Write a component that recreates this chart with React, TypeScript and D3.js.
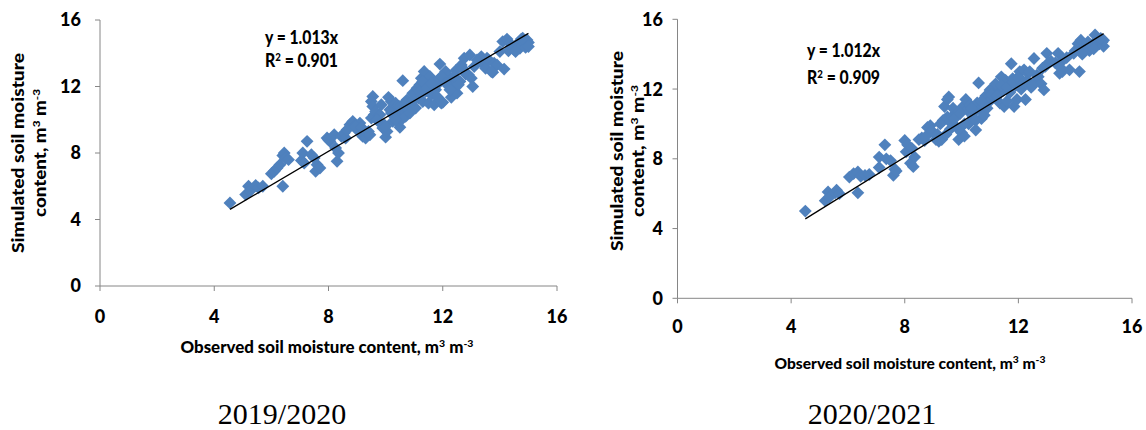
import React, { useEffect, useRef } from 'react';
import * as d3 from 'd3';

// 2019/2020 season: observed vs simulated soil moisture
const obs1920 = [
  4.55, 5.1, 5.2, 5.25, 5.45, 5.55, 5.7, 6.0, 6.1, 6.2, 6.3, 6.4, 6.45, 6.5, 6.6, 6.4,
  7.05, 7.1, 7.15, 7.25, 7.4, 7.5, 7.55, 7.6, 7.7, 7.95, 8.05, 8.0, 8.2, 8.25, 8.3, 8.35,
  8.45, 8.55, 8.6, 8.75, 8.85, 8.9, 9.0, 9.1, 9.2, 9.3, 9.35, 9.45, 9.5, 9.55, 9.5, 9.55,
  9.6, 9.65, 9.75, 9.8, 9.9, 9.95, 10.0, 10.05, 10.1, 10.15, 10.2, 10.25, 10.3, 10.35, 10.4, 10.45,
  10.5, 10.55, 10.6, 10.6, 10.65, 10.7, 10.75, 10.8, 10.85, 10.9, 10.95, 11.0, 11.05, 11.1, 11.15, 11.2,
  11.25, 11.3, 11.35, 11.4, 11.45, 11.5, 11.55, 11.6, 11.7, 11.75, 11.8, 11.85, 11.9, 11.95, 12.0, 12.05,
  12.1, 12.15, 12.2, 12.3, 12.35, 12.45, 12.5, 12.6, 12.65, 12.75, 12.8, 12.9, 12.95, 13.0, 13.05, 13.1,
  13.35, 13.45, 13.5, 13.6, 13.75, 13.8, 13.9, 14.1, 14.15, 14.25, 14.3, 14.4, 14.5, 14.6, 14.7, 14.75,
  14.85, 14.9, 15.0, 14.95,
  8.65, 8.95, 9.15, 9.4, 9.7, 9.85, 10.0, 10.2, 10.35, 10.5, 10.7, 10.85, 11.0, 11.2, 11.3, 11.45,
  11.6, 11.8, 11.95, 12.1, 12.25, 12.4, 12.55, 12.7, 13.2, 13.55, 13.7, 14.0, 14.35, 14.55, 14.8, 15.0,
];
const sim1920 = [
  5.0, 5.5, 6.0, 5.7, 6.05, 5.9, 6.0, 6.75, 6.9, 7.1, 7.3, 7.85, 8.0, 7.7, 7.6, 6.0,
  7.55, 8.0, 7.4, 8.7, 7.9, 7.7, 6.9, 7.3, 7.1, 8.9, 8.7, 8.8, 9.1, 8.3, 7.5, 8.0,
  9.0, 9.2, 8.9, 9.7, 9.9, 9.6, 9.4, 9.8, 9.0, 8.9, 9.2, 9.1, 10.1, 11.4, 11.1, 10.8,
  10.3, 10.5, 9.9, 10.3, 9.5, 9.7, 8.95, 9.3, 11.35, 10.6, 11.1, 9.9, 10.2, 11.0, 10.8, 10.5,
  9.55, 10.0, 12.35, 10.9, 10.5, 10.2, 11.2, 10.6, 10.9, 11.1, 11.6, 11.5, 10.7, 11.9, 11.3, 12.1,
  12.5, 11.1, 12.9, 11.7, 12.2, 11.0, 12.6, 11.5, 10.9, 11.8, 12.1, 12.4, 13.35, 11.0, 11.05, 12.7,
  12.9, 12.3, 12.6, 11.35, 12.0, 12.95, 11.6, 12.3, 13.3, 13.7, 12.75, 12.7, 13.9, 12.5, 12.0, 13.2,
  13.8, 13.3, 13.1, 13.6, 12.85, 13.4, 13.3, 14.7, 13.05, 14.85, 14.15, 14.4, 14.2, 14.55, 14.3, 14.85,
  14.6, 14.35, 14.65, 14.8,
  9.4, 9.6, 9.55, 9.3, 10.0, 10.9, 9.6, 10.4, 10.0, 10.8, 11.0, 10.4, 11.2, 11.7, 12.3, 11.9,
  12.2, 11.4, 12.6, 12.2, 11.8, 12.6, 12.1, 13.1, 13.6, 13.7, 12.9, 14.1, 14.6, 14.1, 14.9, 14.4,
];

// 2020/2021 season
const obs2021 = [
  4.5, 5.2, 5.3, 5.35, 5.55, 5.6, 5.7, 6.05, 6.2, 6.35, 6.45, 6.6, 6.75, 6.35,
  7.1, 7.1, 7.3, 7.35, 7.5, 7.6, 7.65, 7.7, 8.0, 8.05, 8.1, 8.2, 8.25, 8.3, 8.35,
  8.5, 8.6, 8.7, 8.8, 8.9, 9.0, 9.1, 9.2, 9.3, 9.35, 9.4, 9.45, 9.5, 9.5, 9.55,
  9.6, 9.65, 9.7, 9.8, 9.85, 9.9, 10.0, 10.05, 10.1, 10.15, 10.2, 10.25, 10.3, 10.4,
  10.45, 10.5, 10.55, 10.6, 10.65, 10.7, 10.75, 10.8, 10.85, 10.9, 11.0, 11.05, 11.1, 11.15,
  11.2, 11.3, 11.35, 11.4, 11.45, 11.5, 11.55, 11.6, 11.7, 11.75, 11.8, 11.85, 11.9, 11.95,
  12.0, 12.05, 12.1, 12.2, 12.25, 12.3, 12.35, 12.45, 12.55, 12.6, 12.7, 12.8, 12.9, 12.95,
  13.0, 13.05, 13.3, 13.4, 13.45, 13.55, 13.6, 13.8, 13.95, 14.1, 14.15, 14.2, 14.3, 14.4,
  14.5, 14.6, 14.7, 14.75, 14.85, 14.95, 15.0, 15.0,
  8.75, 8.95, 9.15, 9.25, 9.6, 9.75, 9.95, 10.1, 10.35, 10.5, 10.7, 10.9, 11.05, 11.25, 11.4, 11.6,
  11.8, 12.0, 12.15, 12.4, 12.5, 12.65, 12.85, 13.15, 13.5, 13.7, 14.0, 14.25, 14.45, 14.65, 14.9,
];
const sim2021 = [
  5.0, 5.6, 6.1, 5.8, 6.05, 6.2, 6.0, 6.95, 7.15, 7.25, 7.0, 7.05, 7.1, 6.05,
  7.5, 8.1, 8.8, 8.0, 7.9, 7.05, 7.4, 7.3, 9.05, 8.4, 8.8, 7.75, 8.6, 7.55, 8.1,
  9.1, 9.2, 9.05, 9.8, 9.9, 9.5, 9.1, 9.0, 9.1, 10.2, 11.0, 9.4, 11.4, 10.4, 11.55,
  10.1, 10.4, 10.9, 9.85, 10.6, 9.1, 9.5, 11.0, 9.3, 11.4, 10.8, 10.0, 11.1, 10.4,
  10.7, 9.65, 11.2, 12.35, 10.8, 10.3, 11.0, 10.5, 11.6, 11.2, 11.95, 11.4, 12.0, 11.6,
  12.3, 11.7, 11.2, 12.7, 11.9, 11.0, 12.5, 11.3, 11.8, 13.45, 12.6, 11.0, 12.2, 11.4,
  12.7, 13.0, 12.0, 13.1, 11.4, 12.5, 12.9, 12.1, 13.75, 12.4, 12.7, 12.3, 11.95, 13.3,
  14.05, 13.5, 13.5, 14.05, 12.9, 13.0, 13.7, 13.1, 14.05, 14.6, 13.0, 14.8, 14.3, 14.5,
  14.2, 14.4, 15.1, 14.8, 14.6, 14.7, 14.45, 14.8,
  9.3, 9.6, 9.4, 10.0, 9.7, 10.3, 10.6, 10.0, 10.9, 10.2, 11.3, 10.9, 11.7, 11.6, 12.2, 12.1,
  12.4, 12.6, 12.3, 13.0, 12.2, 12.8, 13.2, 13.6, 13.2, 13.8, 14.2, 14.0, 14.7, 14.3, 14.9,
];

const xTicks = [0, 4, 8, 12, 16];
const yTicks = [0, 4, 8, 12, 16];

const panels = [
  {
    obs: obs1920, sim: sim1920, slope: 1.013, eq: 'y = 1.013x', r2: '0.901', caption: '2019/2020',
    x0: 100, x1: 557, yTop: 20, yBot: 286,
    yLabEnd: 81, xLabBase: 323, eqX: 265, eqY1: 44, eqY2: 67,
    xTitleCx: 327, xTitleY: 353, xTitleLen: 293, xTitleSize: 16,
    yTitleX1: 24, yTitleX2: 46, yTitleCy: 153, yTitleLen1: 200, yTitleLen2: 128,
    capCx: 282,
  },
  {
    obs: obs2021, sim: sim2021, slope: 1.012, eq: 'y = 1.012x', r2: '0.909', caption: '2020/2021',
    x0: 677.5, x1: 1132, yTop: 19.3, yBot: 298.3,
    yLabEnd: 663, xLabBase: 333, eqX: 807, eqY1: 57, eqY2: 84,
    xTitleCx: 910, xTitleY: 369, xTitleLen: 271, xTitleSize: 15,
    yTitleX1: 623, yTitleX2: 644, yTitleCy: 151, yTitleLen1: 200, yTitleLen2: 132,
    capCx: 872,
  },
];

const FONT = 'Lato, "Open Sans", sans-serif';
const BLUE = '#4F81BD';
const AXIS = '#868686';

export default function App() {
  const ref = useRef<SVGSVGElement>(null);

  useEffect(() => {
    document.body.style.margin = '0';
    const svg = d3.select(ref.current);
    svg.selectAll('*').remove();

    panels.forEach((p) => {
      const x = d3.scaleLinear().domain([0, 16]).range([p.x0, p.x1]);
      const y = d3.scaleLinear().domain([0, 16]).range([p.yBot, p.yTop]);
      const g = svg.append('g');

      // axes
      g.append('line').attr('x1', x(0)).attr('x2', x(16)).attr('y1', y(0)).attr('y2', y(0))
        .attr('stroke', AXIS).attr('stroke-width', 1);
      g.append('line').attr('x1', x(0)).attr('x2', x(0)).attr('y1', y(0)).attr('y2', y(16))
        .attr('stroke', AXIS).attr('stroke-width', 1);
      g.selectAll('.xt').data(xTicks).enter().append('line')
        .attr('x1', d => x(d)).attr('x2', d => x(d)).attr('y1', y(0)).attr('y2', y(0) + 5)
        .attr('stroke', AXIS);
      g.selectAll('.yt').data(yTicks).enter().append('line')
        .attr('x1', x(0) - 5).attr('x2', x(0)).attr('y1', d => y(d)).attr('y2', d => y(d))
        .attr('stroke', AXIS);

      g.selectAll('.xl').data(xTicks).enter().append('text')
        .attr('x', d => x(d)).attr('y', p.xLabBase)
        .attr('text-anchor', 'middle').attr('font-family', FONT).attr('font-weight', 900)
        .attr('font-size', 18).text(d => d);
      g.selectAll('.yl').data(yTicks).enter().append('text')
        .attr('x', p.yLabEnd).attr('y', d => y(d)).attr('dy', '0.36em')
        .attr('text-anchor', 'end').attr('font-family', FONT).attr('font-weight', 900)
        .attr('font-size', 18).text(d => d);

      // points
      const diamond = d3.symbol(d3.symbolDiamond2, 105);
      g.selectAll('.pt').data(p.obs).enter().append('path')
        .attr('d', diamond)
        .attr('transform', (d, i) => `translate(${x(d)},${y(p.sim[i])})`)
        .attr('fill', BLUE);

      // trend line
      const xmin = d3.min(p.obs) as number;
      const xmax = d3.max(p.obs) as number;
      g.append('line')
        .attr('x1', x(xmin)).attr('y1', y(xmin * p.slope))
        .attr('x2', x(xmax)).attr('y2', y(xmax * p.slope))
        .attr('stroke', '#000').attr('stroke-width', 1.3);

      // equation
      g.append('text').attr('x', p.eqX).attr('y', p.eqY1)
        .attr('font-family', FONT).attr('font-weight', 900).attr('font-size', 18)
        .attr('textLength', 73).attr('lengthAdjust', 'spacingAndGlyphs').text(p.eq);
      const r = g.append('text').attr('x', p.eqX).attr('y', p.eqY2)
        .attr('font-family', FONT).attr('font-weight', 900).attr('font-size', 18)
        .attr('textLength', 73).attr('lengthAdjust', 'spacingAndGlyphs');
      r.append('tspan').text('R');
      r.append('tspan').attr('baseline-shift', 'super').attr('font-size', 11).text('2');
      r.append('tspan').text(` = ${p.r2}`);

      // x title
      const xt = g.append('text').attr('x', p.xTitleCx).attr('y', p.xTitleY)
        .attr('text-anchor', 'middle').attr('font-family', FONT).attr('font-weight', 900)
        .attr('font-size', p.xTitleSize).attr('textLength', p.xTitleLen).attr('lengthAdjust', 'spacingAndGlyphs');
      xt.append('tspan').text('Observed soil moisture content, m');
      xt.append('tspan').attr('baseline-shift', 'super').attr('font-size', 10).text('3');
      xt.append('tspan').text(' m');
      xt.append('tspan').attr('baseline-shift', 'super').attr('font-size', 10).text('-3');

      // y title
      g.append('text')
        .attr('transform', `translate(${p.yTitleX1},${p.yTitleCy}) rotate(-90)`)
        .attr('text-anchor', 'middle').attr('font-family', FONT).attr('font-weight', 900)
        .attr('font-size', 16).attr('textLength', p.yTitleLen1).attr('lengthAdjust', 'spacingAndGlyphs')
        .text('Simulated  soil moisture');
      const yt = g.append('text')
        .attr('transform', `translate(${p.yTitleX2},${p.yTitleCy}) rotate(-90)`)
        .attr('text-anchor', 'middle').attr('font-family', FONT).attr('font-weight', 900)
        .attr('font-size', 16).attr('textLength', p.yTitleLen2).attr('lengthAdjust', 'spacingAndGlyphs');
      yt.append('tspan').text('content,  m');
      yt.append('tspan').attr('baseline-shift', 'super').attr('font-size', 10).text('3');
      yt.append('tspan').text(' m');
      yt.append('tspan').attr('baseline-shift', 'super').attr('font-size', 10).text('-3');

      // caption
      g.append('text').attr('x', p.capCx).attr('y', 424).attr('text-anchor', 'middle')
        .attr('font-family', '"Liberation Serif", "Times New Roman", serif').attr('font-size', 30)
        .text(p.caption);
    });
  }, []);

  return (
    <svg ref={ref} width={1146} height={430} style={{ display: 'block', background: '#fff' }} />
  );
}
